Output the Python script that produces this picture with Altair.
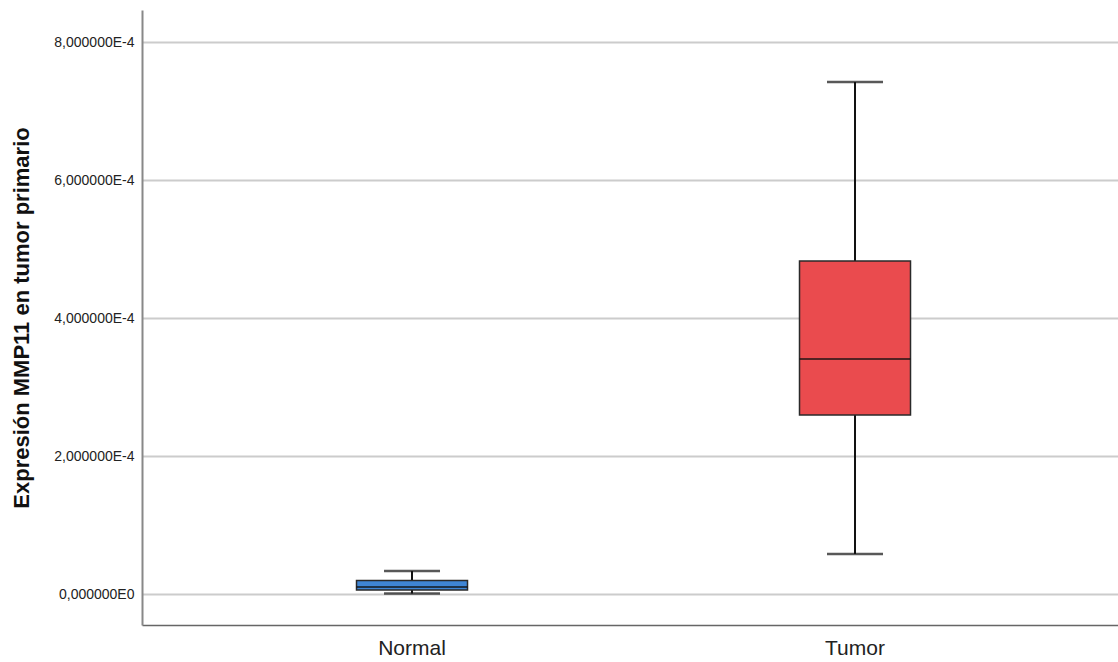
import altair as alt
import pandas as pd

# Five-number summaries per group (expression values)
groups = ["Normal", "Tumor"]
whisker_low = [0.0000007, 0.0000580]
q1 = [0.0000058, 0.0002594]
median = [0.0000100, 0.0003406]
q3 = [0.0000196, 0.0004826]
whisker_high = [0.0000333, 0.0007420]
box_colors = ["#3F86D6", "#EA4B4E"]

tick_values = [0.0, 0.0002, 0.0004, 0.0006, 0.0008]
tick_labels = ["0,000000E0", "2,000000E-4", "4,000000E-4", "6,000000E-4", "8,000000E-4"]

df = pd.DataFrame({
    "grupo": groups,
    "lo": whisker_low,
    "q1": q1,
    "med": median,
    "q3": q3,
    "hi": whisker_high,
    "color": box_colors,
})

label_expr = "[" + ",".join(f"'{t}'" for t in tick_labels) + "][round(datum.value / 0.0002)]"

x = alt.X(
    "grupo:N",
    title=None,
    sort=groups,
    scale=alt.Scale(paddingInner=0, paddingOuter=0.1016, align=0.539),
    axis=alt.Axis(
        labelAngle=0, labelFontSize=21, labelColor="#222222", labelFont="Liberation Sans",
        ticks=False, domainColor="#666666", domainWidth=1.5, labelPadding=12,
    ),
)
y_scale = alt.Scale(domain=[-0.0000449, 0.0008464], nice=False, zero=False)
y_axis = alt.Axis(
    values=tick_values, labelExpr=label_expr, title="Expresión MMP11 en tumor primario",
    titleFontSize=22, titleFont="Liberation Sans", titleFontWeight="bold", titleColor="#111111",
    labelFontSize=14, labelFont="Liberation Sans", labelColor="#222222",
    ticks=False, labelPadding=8, domainColor="#888888", domainWidth=2,
    grid=True, gridColor="#CCCCCC", gridWidth=2, titlePadding=20,
)

base = alt.Chart(df)

whisker = base.mark_rule(color="#111111", strokeWidth=2).encode(
    x=x, y=alt.Y("lo:Q", scale=y_scale, axis=y_axis), y2="hi:Q"
)
caps_lo = base.mark_tick(color="#111111", thickness=2.5, size=56).encode(
    x=x, y=alt.Y("lo:Q", scale=y_scale)
)
caps_hi = base.mark_tick(color="#111111", thickness=2.5, size=56).encode(
    x=x, y=alt.Y("hi:Q", scale=y_scale)
)
box = base.mark_bar(size=111, stroke="#2A2A2A", strokeWidth=1.5).encode(
    x=x, y=alt.Y("q1:Q", scale=y_scale), y2="q3:Q",
    color=alt.Color("color:N", scale=None, legend=None),
)
med = base.mark_tick(color="#111111", thickness=2, size=111).encode(
    x=x, y=alt.Y("med:Q", scale=y_scale)
)

chart = (
    alt.layer(whisker, caps_lo, caps_hi, box, med)
    .properties(
        width=976, height=615,
        padding={"left": 142, "top": 10, "right": 0, "bottom": 37},
        autosize=alt.AutoSizeParams(type="none"),
        background="white",
    )
    .configure_view(stroke=None)
)

chart.save("out.html", embed_options={"renderer": "svg", "actions": False})
